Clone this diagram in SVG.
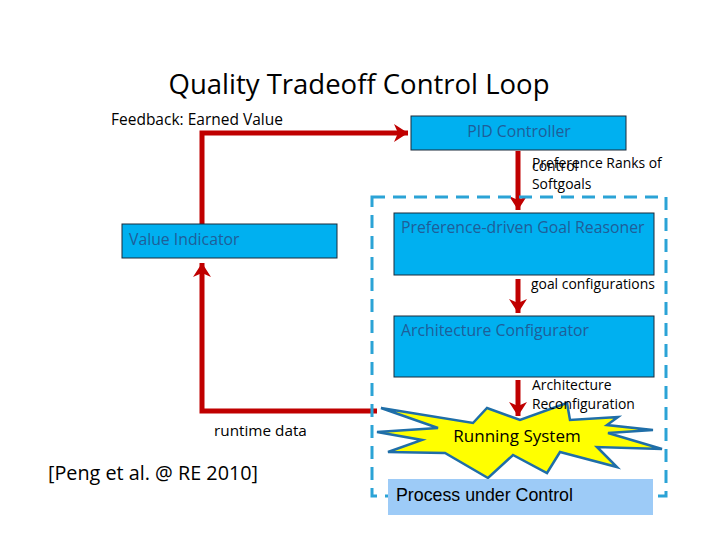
<svg xmlns="http://www.w3.org/2000/svg" width="720" height="540" viewBox="0 0 720 540">
<style>
.t{font-family:"Open Sans","Liberation Sans",sans-serif;fill:#000}
.bt{font-family:"Open Sans","Liberation Sans",sans-serif;fill:#1F5E99;font-size:15.8px}
.box{fill:#00B0F0;stroke:#1A2A3A;stroke-width:1}
.red{fill:none;stroke:#C00000;stroke-width:5}
</style>
<defs>
<marker id="ah" markerUnits="userSpaceOnUse" markerWidth="20" markerHeight="20" refX="14" refY="10" orient="auto">
<path d="M0,1 L14,10 L0,19 L4,10 Z" fill="#C00000"/>
</marker>
</defs>
<rect width="720" height="540" fill="#fff"/>
<text class="t" x="359" y="94" font-size="27.5" text-anchor="middle">Quality Tradeoff Control Loop</text>
<text class="t" x="111" y="125" font-size="15.5">Feedback: Earned Value</text>
<g id="connectors">
<path class="red" d="M202,226 V133 H408" marker-end="url(#ah)"/>
<path class="red" d="M377,411 H202 V263" marker-end="url(#ah)"/>
<path class="red" d="M518,151 V210" marker-end="url(#ah)"/>
<path class="red" d="M518,279 V313" marker-end="url(#ah)"/>
<path class="red" d="M518,380 V416" marker-end="url(#ah)"/>
</g>
<g id="boundary">
<rect x="372" y="197" width="294" height="299" fill="none" stroke="#2BA3D6" stroke-width="3" stroke-dasharray="13,8"/>
</g>
<g id="pid">
<rect class="box" x="411" y="116" width="215" height="34"/>
<text class="bt" x="519" y="137" text-anchor="middle">PID Controller</text>
</g>
<g id="value-indicator">
<rect class="box" x="122" y="224" width="215" height="34"/>
<text class="bt" x="129" y="245">Value Indicator</text>
</g>
<g id="goal-reasoner">
<rect class="box" x="394" y="213" width="260" height="62"/>
<text class="bt" x="401" y="233">Preference-driven Goal Reasoner</text>
</g>
<g id="arch-config">
<rect class="box" x="394" y="316" width="260" height="61"/>
<text class="bt" x="401" y="336">Architecture Configurator</text>
</g>
<g id="running-system">
<polygon points="381,408 473,423 487,408 520,420 567,403 570,420 618,417 607,425 653,430 608,433 662,449 597,447 617,467 560,452 547,473 513,455 488,478 445,453 388,452 422,440 377,432 438,428" fill="#FFFF00" stroke="#1F6EA8" stroke-width="2.5" stroke-linejoin="miter"/>
<text class="t" x="517" y="442" font-size="17" text-anchor="middle">Running System</text>
</g>
<g id="process">
<rect x="388" y="479" width="265" height="36" fill="#9DCBF7"/>
<text x="396" y="501" font-family="Liberation Sans, Arial, sans-serif" font-size="17.8" fill="#000">Process under Control</text>
</g>
<g id="labels">
<text class="t" x="532" y="168" font-size="13.9">Preference Ranks of</text>
<text class="t" x="532" y="171" font-size="13.9">control</text>
<text class="t" x="532" y="189" font-size="13.9">Softgoals</text>
<text class="t" x="531" y="289" font-size="13.9">goal configurations</text>
<text class="t" x="532" y="390" font-size="13.9">Architecture</text>
<text class="t" x="532" y="409" font-size="13.9">Reconfiguration</text>
<text class="t" x="214" y="436" font-size="15.3">runtime data</text>
<text class="t" x="48" y="480" font-size="19.8">[Peng et al. @ RE 2010]</text>
</g>
</svg>
